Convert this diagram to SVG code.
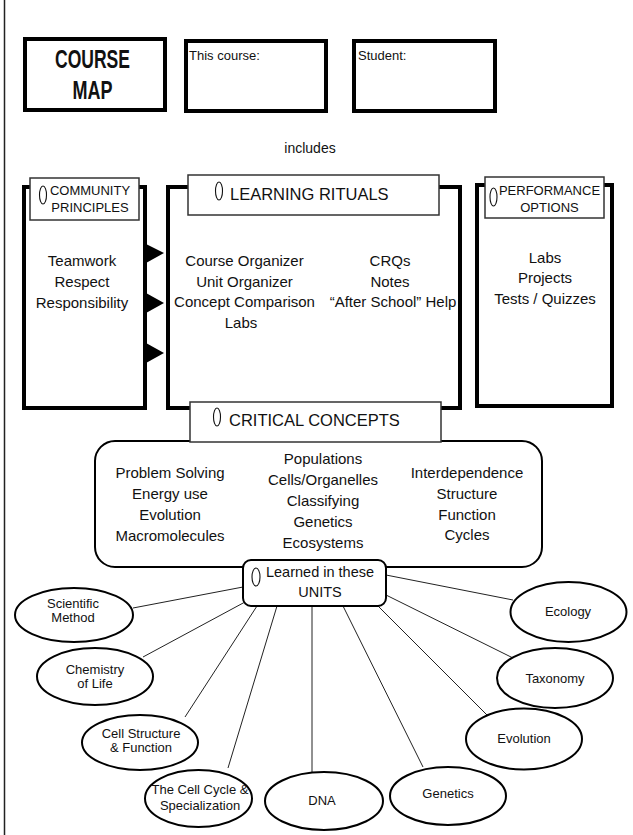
<svg xmlns="http://www.w3.org/2000/svg" width="633" height="835" viewBox="0 0 633 835">
<style>
text{font-family:"Liberation Sans",Arial,sans-serif;fill:#111;}
.b{font-size:15px;text-anchor:middle;}
.u{font-size:13px;text-anchor:middle;}
.lbl{fill:#fff;stroke:#333;stroke-width:1.5;}
.outer{fill:#fff;stroke:#000;stroke-width:4;}
.top{fill:#fff;stroke:#000;stroke-width:4;}
.ov{fill:#fff;stroke:#111;stroke-width:1.1;}
.unit{fill:#fff;stroke:#000;stroke-width:2;}
.conn line{stroke:#222;stroke-width:1;}
.arr{fill:#000;}
</style>
<rect width="633" height="835" fill="#fff"/>
<line x1="4.5" y1="0" x2="4.5" y2="835" stroke="#222" stroke-width="1.5"/>

<g id="course-map">
<rect class="top" x="25" y="39" width="140" height="71"/>
<text x="92.5" y="68" font-size="25" font-weight="bold" text-anchor="middle" textLength="75" lengthAdjust="spacingAndGlyphs">COURSE</text>
<text x="92.5" y="99" font-size="25" font-weight="bold" text-anchor="middle" textLength="40" lengthAdjust="spacingAndGlyphs">MAP</text>
</g>
<g id="this-course">
<rect class="top" x="186" y="41" width="140" height="70"/>
<text x="189" y="60" font-size="13">This course:</text>
</g>
<g id="student">
<rect class="top" x="354" y="41" width="141" height="70"/>
<text x="358" y="60" font-size="13">Student:</text>
</g>

<text id="includes" x="310" y="153" font-size="14" text-anchor="middle">includes</text>

<g id="community">
<rect class="outer" x="24" y="187" width="121" height="221"/>
<rect class="lbl" x="30" y="178" width="109" height="42"/>
<ellipse class="ov" cx="43" cy="195" rx="3.5" ry="9"/>
<text x="90" y="195" font-size="13" text-anchor="middle">COMMUNITY</text>
<text x="90" y="212" font-size="13" text-anchor="middle">PRINCIPLES</text>
<text class="b" x="82" y="266">Teamwork</text>
<text class="b" x="82" y="287">Respect</text>
<text class="b" x="82" y="308">Responsibility</text>
</g>

<g id="learning">
<rect class="outer" x="168" y="187" width="292" height="221"/>
<rect class="lbl" x="188" y="175" width="251" height="40"/>
<ellipse class="ov" cx="219" cy="191" rx="3.5" ry="9"/>
<text x="230" y="200" font-size="16.5">LEARNING RITUALS</text>
<text class="b" x="244.5" y="266">Course Organizer</text>
<text class="b" x="244.5" y="287">Unit Organizer</text>
<text class="b" x="244.5" y="307">Concept Comparison</text>
<text class="b" x="241" y="328">Labs</text>
<text class="b" x="390" y="266">CRQs</text>
<text class="b" x="390" y="287">Notes</text>
<text class="b" x="393" y="307">“After School” Help</text>
</g>

<g id="performance">
<rect class="outer" x="477" y="185" width="135" height="221"/>
<rect class="lbl" x="485" y="177" width="119" height="41"/>
<ellipse class="ov" cx="493.5" cy="197" rx="3.5" ry="9"/>
<text x="549.5" y="195" font-size="13" text-anchor="middle">PERFORMANCE</text>
<text x="549.5" y="212" font-size="13" text-anchor="middle">OPTIONS</text>
<text class="b" x="545" y="263">Labs</text>
<text class="b" x="545" y="283">Projects</text>
<text class="b" x="545" y="304">Tests / Quizzes</text>
</g>

<g id="arrows">
<polygon class="arr" points="146,244 164,253 146,263"/>
<polygon class="arr" points="146,293 164,303 146,313"/>
<polygon class="arr" points="146,343 164,353 146,363"/>
</g>

<g id="critical-concepts">
<rect x="95" y="441" width="447" height="126" rx="20" ry="20" fill="#fff" stroke="#000" stroke-width="2"/>
<rect class="lbl" x="190" y="402" width="251" height="40"/>
<ellipse class="ov" cx="217" cy="417" rx="3.5" ry="9"/>
<text x="229" y="426" font-size="16.5">CRITICAL CONCEPTS</text>
<text class="b" x="170" y="478">Problem Solving</text>
<text class="b" x="170" y="499">Energy use</text>
<text class="b" x="170" y="520">Evolution</text>
<text class="b" x="170" y="541">Macromolecules</text>
<text class="b" x="323" y="464">Populations</text>
<text class="b" x="323" y="485">Cells/Organelles</text>
<text class="b" x="323" y="506">Classifying</text>
<text class="b" x="323" y="527">Genetics</text>
<text class="b" x="323" y="548">Ecosystems</text>
<text class="b" x="467" y="478">Interdependence</text>
<text class="b" x="467" y="499">Structure</text>
<text class="b" x="467" y="520">Function</text>
<text class="b" x="467" y="540">Cycles</text>
</g>

<g id="connectors" class="conn">
<line x1="133" y1="608" x2="243" y2="587"/>
<line x1="143" y1="657" x2="245" y2="602"/>
<line x1="185" y1="717" x2="257" y2="606"/>
<line x1="228" y1="768" x2="277" y2="606"/>
<line x1="312" y1="606" x2="312" y2="772"/>
<line x1="343" y1="606" x2="423" y2="767"/>
<line x1="378" y1="606" x2="489" y2="717"/>
<line x1="386" y1="595" x2="513" y2="658"/>
<line x1="386" y1="575" x2="513" y2="600"/>
</g>

<g id="units">
<rect x="243" y="560" width="143" height="46" rx="8" ry="8" fill="#fff" stroke="#000" stroke-width="2"/>
<ellipse class="ov" cx="256" cy="577" rx="4" ry="9"/>
<text x="320" y="577" font-size="14.5" text-anchor="middle">Learned in these</text>
<text x="320" y="597" font-size="14.5" text-anchor="middle">UNITS</text>
</g>

<g id="scientific-method">
<ellipse class="unit" cx="74" cy="615" rx="59" ry="27"/>
<text class="u" x="73" y="608">Scientific</text>
<text class="u" x="73" y="622">Method</text>
</g>
<g id="chemistry">
<ellipse class="unit" cx="95" cy="676.5" rx="58" ry="28.5"/>
<text class="u" x="95" y="674">Chemistry</text>
<text class="u" x="95" y="688">of Life</text>
</g>
<g id="cell-structure">
<ellipse class="unit" cx="140" cy="742.5" rx="58" ry="27.5"/>
<text class="u" x="141" y="738">Cell Structure</text>
<text class="u" x="141" y="752">&amp; Function</text>
</g>
<g id="cell-cycle">
<ellipse class="unit" cx="198.5" cy="798.5" rx="53.5" ry="28.5"/>
<text class="u" x="200" y="794">The Cell Cycle &amp;</text>
<text class="u" x="200" y="810">Specialization</text>
</g>
<g id="dna">
<ellipse class="unit" cx="324" cy="801" rx="59" ry="29"/>
<text class="u" x="322" y="805">DNA</text>
</g>
<g id="genetics">
<ellipse class="unit" cx="448" cy="796" rx="58" ry="29"/>
<text class="u" x="448" y="798">Genetics</text>
</g>
<g id="evolution">
<ellipse class="unit" cx="524" cy="739" rx="58" ry="30.5"/>
<text class="u" x="524" y="743">Evolution</text>
</g>
<g id="taxonomy">
<ellipse class="unit" cx="555" cy="678" rx="58" ry="30"/>
<text class="u" x="555" y="683">Taxonomy</text>
</g>
<g id="ecology">
<ellipse class="unit" cx="568.5" cy="612" rx="58" ry="30"/>
<text class="u" x="568" y="616">Ecology</text>
</g>
</svg>
